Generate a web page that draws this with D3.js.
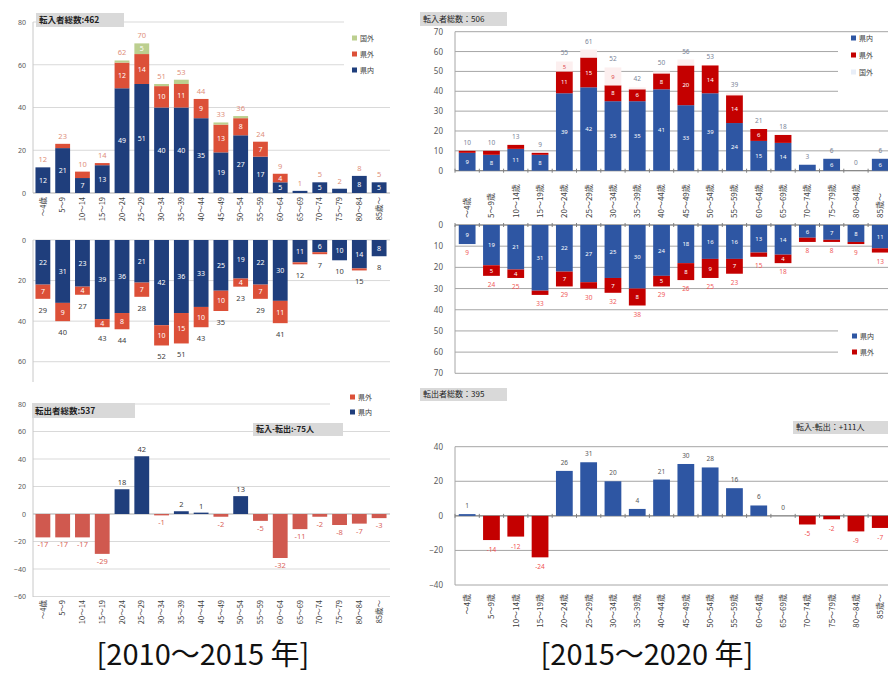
<!DOCTYPE html>
<html><head><meta charset="utf-8">
<script src="https://cdn.jsdelivr.net/npm/d3@7"></script>
<style>body{margin:0;background:#fff}svg{display:block;font-family:"Noto Sans CJK JP","Noto Sans",sans-serif}</style>
</head><body><svg id="c" width="888" height="677"></svg>
<script>
// ---------- DATA ----------
const catsL = ["～4歳","5～9","10～14","15～19","20～24","25～29","30～34","35～39","40～44","45～49","50～54","55～59","60～64","65～69","70～74","75～79","80～84","85歳～"];
const catsR = ["～4歳","5～9歳","10～14歳","15～19歳","20～24歳","25～29歳","30～34歳","35～39歳","40～44歳","45～49歳","50～54歳","55～59歳","60～64歳","65～69歳","70～74歳","75～79歳","80～84歳","85歳～"];
// 2010-2015 転入
const inPrefL    = [12,21,7,13,49,51,40,40,35,19,27,17,5,1,5,2,8,5];
const inOutPrefL = [0,2,3,1,12,14,10,11,9,13,8,7,4,0,0,0,0,0];
const inAbroadL  = [0,0,0,0,1,5,1,2,0,1,1,0,0,0,0,0,0,0];
// 2010-2015 転出
const outPrefL    = [22,31,23,39,36,21,42,36,33,25,19,22,30,11,6,10,14,8];
const outOutPrefL = [7,9,4,4,8,7,10,15,10,10,4,7,11,1,1,0,1,0];
// 2010-2015 転入-転出
const netL = [-17,-17,-17,-29,18,42,-1,2,1,-2,13,-5,-32,-11,-2,-8,-7,-3];
// 2015-2020 転入
const inPrefR    = [9,8,11,8,39,42,35,35,41,33,39,24,15,14,3,6,0,6];
const inOutPrefR = [1,2,2,1,11,15,8,6,8,20,14,14,6,4,0,0,0,0];
const inAbroadR  = [0,0,0,0,5,4,9,1,1,3,0,1,0,0,0,0,0,0];
// 2015-2020 転出
const outPrefR    = [9,19,21,31,22,27,25,30,24,18,16,16,13,14,6,7,8,11];
const outOutPrefR = [0,5,4,2,7,3,7,8,5,8,9,7,2,4,2,1,1,2];
// 2015-2020 転入-転出
const netR = [1,-14,-12,-24,26,31,20,4,21,30,28,16,6,0,-5,-2,-9,-7];
// tick values
const ticksLTop = [0,20,40,60,80], ticksLMid = [0,20,40,60], ticksLNet = [-60,-40,-20,0,20,40,60,80];
const ticksRTop = [0,10,20,30,40,50,60,70], ticksRMid = [0,10,20,30,40,50,60,70], ticksRNet = [-40,-20,0,20,40];
// texts
const titles = {lIn:"転入者総数:462", lOut:"転出者総数:537", lNet:"転入-転出:-75人",
  rIn:"転入者総数：506", rOut:"転出者総数：395", rNet:"転入-転出：+111人",
  capL:"[2010～2015 年]", capR:"[2015～2020 年]"};

// ---------- STYLE ----------
const L_BLUE="#1f3e7c", L_RED="#dc5038", L_GREEN="#bccf8f", L_NEG="#d0594f";
const R_BLUE="#2e56a3", R_RED="#c40000", R_PALE="#fcefef";
const svg = d3.select("#c");

function yAxis(g, y, ticks, x0, x1, pad, size, grid, gridEnd){
  const ax = g.append("g").attr("transform",`translate(${x0},0)`)
    .call(d3.axisLeft(y).tickValues(ticks).tickSize(0).tickPadding(pad));
  ax.select(".domain").remove();
  ax.selectAll("text").attr("font-size",size).attr("fill","#595959").attr("font-family","Noto Sans, sans-serif");
  ticks.forEach(t=>{
    g.append("line").attr("x1",x0).attr("x2",gridEnd?gridEnd(t):x1)
      .attr("y1",y(t)).attr("y2",y(t)).attr("stroke",grid).attr("stroke-width",1);
  });
}
function stackBars(g, cats, x, y, series, innerSize, minH){
  const data = cats.map((c,i)=>{const o={cat:c}; series.forEach(s=>o[s.key]=s.values[i]); return o;});
  const st = d3.stack().keys(series.map(s=>s.key))(data);
  st.forEach((layer,li)=>{
    g.append("g").selectAll("rect").data(layer).join("rect")
      .attr("x",d=>x(d.data.cat)).attr("width",x.bandwidth())
      .attr("y",d=>Math.min(y(d[0]),y(d[1]))).attr("height",d=>Math.abs(y(d[1])-y(d[0])))
      .attr("fill",series[li].color);
    if(series[li].label!==false){
      g.append("g").selectAll("text").data(layer.filter(d=>Math.abs(y(d[1])-y(d[0]))>=minH)).join("text")
        .attr("x",d=>x(d.data.cat)+x.bandwidth()/2).attr("y",d=>(y(d[0])+y(d[1]))/2).attr("dy","0.36em")
        .attr("text-anchor","middle").attr("font-size",innerSize).attr("fill",series[li].textColor||"#fff")
        .attr("font-family","Noto Sans, sans-serif").text(d=>d[1]-d[0]);
    }
  });
  return data.map((d,i)=>d3.sum(series,s=>s.values[i]));
}
function xLabels(g, cats, x, yPos, anchor, size){
  g.append("g").selectAll("text").data(cats).join("text")
    .attr("transform",d=>`translate(${x(d)+x.bandwidth()/2},${yPos}) rotate(-90)`)
    .attr("text-anchor",anchor).attr("dy","0.36em").attr("font-size",size).attr("fill","#404040").text(d=>d);
}
function legend(g, x, y0, dy, items, size){
  items.forEach((it,i)=>{
    g.append("rect").attr("x",x).attr("y",y0+i*dy-2.5).attr("width",5).attr("height",5).attr("fill",it.color);
    g.append("text").attr("x",x+8).attr("y",y0+i*dy).attr("dy","0.36em").attr("font-size",size).attr("fill","#404040").text(it.name);
  });
}
function box(g, x, y, w, h, text, size, weight){
  g.append("rect").attr("x",x).attr("y",y).attr("width",w).attr("height",h).attr("fill","#d9d9d9");
  g.append("text").attr("x",x+3).attr("y",y+h/2).attr("dy","0.36em").attr("font-size",size)
    .attr("font-weight",weight).attr("fill","#222").text(text);
}

// ================= LEFT PANEL =================
const gL = svg.append("g");
const xL = d3.scaleBand().domain(catsL).range([33,389]).paddingInner(0.25).paddingOuter(0.125);
const xc = (x,c)=>x(c)+x.bandwidth()/2;
// top: 転入
const yLT = d3.scaleLinear().domain([0,80]).range([193,22]);
yAxis(gL, yLT, ticksLTop, 33, 390, 7, 7, "#d9d9d9");
gL.append("rect").attr("x",344).attr("y",14).attr("width",46).attr("height",62).attr("fill","#fff");
gL.append("line").attr("x1",33).attr("x2",33).attr("y1",22).attr("y2",193).attr("stroke","#c8c8c8");
gL.append("line").attr("x1",33).attr("x2",390).attr("y1",193).attr("y2",193).attr("stroke","#bfbfbf");
const totLT = stackBars(gL, catsL, xL, yLT, [
  {key:"県内",values:inPrefL,color:L_BLUE},
  {key:"県外",values:inOutPrefL,color:L_RED},
  {key:"国外",values:inAbroadL,color:L_GREEN}], 7, 7);
gL.append("g").selectAll("text").data(catsL).join("text")
  .attr("x",c=>xc(xL,c)).attr("y",(c,i)=>yLT(totLT[i])-5).attr("text-anchor","middle")
  .attr("font-size",7.5).attr("fill","#e0907c").attr("font-family","Noto Sans, sans-serif").text((c,i)=>totLT[i]);
box(gL, 36, 13, 88, 14, titles.lIn, 8.5, 700);
legend(gL, 352, 38, 16, [{name:"国外",color:L_GREEN},{name:"県外",color:L_RED},{name:"県内",color:L_BLUE}], 7);
xLabels(gL, catsL, xL, 197, "end", 7.5);

// middle: 転出
const yLM = d3.scaleLinear().domain([0,70]).range([240,382]);
yAxis(gL, yLM, ticksLMid, 33, 390, 7, 7, "#d9d9d9");
gL.append("line").attr("x1",33).attr("x2",33).attr("y1",240).attr("y2",382).attr("stroke","#c8c8c8");
const totLM = stackBars(gL, catsL, xL, yLM, [
  {key:"県内",values:outPrefL,color:L_BLUE},
  {key:"県外",values:outOutPrefL,color:L_RED}], 7, 7);
gL.append("g").selectAll("text").data(catsL).join("text")
  .attr("x",c=>xc(xL,c)).attr("y",(c,i)=>yLM(totLM[i])+14).attr("text-anchor","middle")
  .attr("font-size",7.5).attr("fill","#404040").attr("font-family","Noto Sans, sans-serif").text((c,i)=>totLM[i]);

// bottom: 転入-転出
const yLN = d3.scaleLinear().domain([-60,80]).range([596.5,404]);
yAxis(gL, yLN, ticksLNet, 33, 390, 7, 7, "#d9d9d9", t=>t===80?330:390);
gL.append("line").attr("x1",33).attr("x2",33).attr("y1",404).attr("y2",597).attr("stroke","#c8c8c8");
gL.append("line").attr("x1",33).attr("x2",390).attr("y1",yLN(0)).attr("y2",yLN(0)).attr("stroke","#bfbfbf");
gL.append("g").selectAll("rect").data(catsL).join("rect")
  .attr("x",c=>xL(c)).attr("width",xL.bandwidth())
  .attr("y",(c,i)=>Math.min(yLN(0),yLN(netL[i]))).attr("height",(c,i)=>Math.abs(yLN(netL[i])-yLN(0)))
  .attr("fill",(c,i)=>netL[i]>=0?L_BLUE:L_NEG);
gL.append("g").selectAll("text").data(catsL).join("text")
  .attr("x",c=>xc(xL,c)).attr("y",(c,i)=>netL[i]>=0?yLN(netL[i])-4:yLN(netL[i])+10)
  .attr("text-anchor","middle").attr("font-size",7.5).attr("font-family","Noto Sans, sans-serif")
  .attr("fill",(c,i)=>netL[i]>=0?"#404040":"#d9645a").text((c,i)=>netL[i]);
box(gL, 32, 403, 103, 15, titles.lOut, 8.5, 700);
gL.append("rect").attr("x",336).attr("y",388).attr("width",54).attr("height",32).attr("fill","#fff");
legend(gL, 350, 397, 15, [{name:"県外",color:L_RED},{name:"県内",color:L_BLUE}], 7);
box(gL, 253, 423, 90, 13, titles.lNet, 8, 700);
xLabels(gL, catsL, xL, 600, "end", 7.5);

// ================= RIGHT PANEL =================
const gR = svg.append("g");
const xR = d3.scaleBand().domain(catsR).range([455,892.4]).paddingInner(0.31).paddingOuter(0.155);
function xTicks(g, y){
  g.append("g").selectAll("line").data(catsR).join("line")
    .attr("x1",c=>xR(c)-xR.step()*0.155).attr("x2",c=>xR(c)-xR.step()*0.155)
    .attr("y1",y-2).attr("y2",y+2).attr("stroke","#808080");
}
// top
const yRT = d3.scaleLinear().domain([0,70]).range([170.7,31.7]);
yAxis(gR, yRT, ticksRTop, 455, 888, 12, 8, "#a6a6a6", t=>(t>=40&&t<=60)?838:888);
gR.append("line").attr("x1",455).attr("x2",455).attr("y1",31.7).attr("y2",170.7).attr("stroke","#a6a6a6");
gR.append("line").attr("x1",455).attr("x2",888).attr("y1",170.7).attr("y2",170.7).attr("stroke","#808080");
xTicks(gR, 170.7);
const totRT = stackBars(gR, catsR, xR, yRT, [
  {key:"県内",values:inPrefR,color:R_BLUE},
  {key:"県外",values:inOutPrefR,color:R_RED},
  {key:"国外",values:inAbroadR,color:R_PALE,textColor:"#e05050"}], 6, 8);
gR.append("g").selectAll("text").data(catsR).join("text")
  .attr("x",c=>xc(xR,c)).attr("y",(c,i)=>yRT(totRT[i])-6).attr("text-anchor","middle")
  .attr("font-size",6.5).attr("fill","#7a8598").attr("font-family","Noto Sans, sans-serif").text((c,i)=>totRT[i]);
box(gR, 420, 12, 87, 14, titles.rIn, 8, 400);
legend(gR, 851, 38, 17, [{name:"県内",color:R_BLUE},{name:"県外",color:R_RED},{name:"国外",color:"#e8eef8"}], 7);
xLabels(gR, catsR, xR, 218, "start", 8);

// middle
const yRM = d3.scaleLinear().domain([0,70]).range([225,373.3]);
yAxis(gR, yRM, ticksRMid, 455, 888, 12, 8, "#a6a6a6", t=>(t===50||t===60)?838:888);
gR.append("line").attr("x1",455).attr("x2",455).attr("y1",225).attr("y2",373.3).attr("stroke","#a6a6a6");
gR.append("line").attr("x1",455).attr("x2",888).attr("y1",225).attr("y2",225).attr("stroke","#808080");
xTicks(gR, 225);
const totRM = stackBars(gR, catsR, xR, yRM, [
  {key:"県内",values:outPrefR,color:R_BLUE},
  {key:"県外",values:outOutPrefR,color:R_RED}], 6, 8);
gR.append("g").selectAll("text").data(catsR).join("text")
  .attr("x",c=>xc(xR,c)).attr("y",(c,i)=>yRM(totRM[i])+11).attr("text-anchor","middle")
  .attr("font-size",6.5).attr("fill","#f05a5a").attr("font-family","Noto Sans, sans-serif").text((c,i)=>totRM[i]);
legend(gR, 852, 336, 16, [{name:"県内",color:R_BLUE},{name:"県外",color:R_RED}], 7);
box(gR, 420, 388, 87, 13, titles.rOut, 8, 400);

// bottom net
const yRN = d3.scaleLinear().domain([-40,40]).range([585,446.7]);
yAxis(gR, yRN, ticksRNet, 455, 888, 12, 8, "#a6a6a6");
gR.append("line").attr("x1",455).attr("x2",455).attr("y1",446.7).attr("y2",585).attr("stroke","#a6a6a6");
gR.append("line").attr("x1",455).attr("x2",888).attr("y1",yRN(0)).attr("y2",yRN(0)).attr("stroke","#808080");
xTicks(gR, yRN(0));
gR.append("g").selectAll("rect").data(catsR).join("rect")
  .attr("x",c=>xR(c)).attr("width",xR.bandwidth())
  .attr("y",(c,i)=>Math.min(yRN(0),yRN(netR[i]))).attr("height",(c,i)=>Math.abs(yRN(netR[i])-yRN(0)))
  .attr("fill",(c,i)=>netR[i]>=0?R_BLUE:R_RED);
gR.append("g").selectAll("text").data(catsR).join("text")
  .attr("x",c=>xc(xR,c)).attr("y",(c,i)=>netR[i]>=0?yRN(netR[i])-6:yRN(netR[i])+12)
  .attr("text-anchor","middle").attr("font-size",6.5).attr("font-family","Noto Sans, sans-serif")
  .attr("fill",(c,i)=>netR[i]>=0?"#595959":"#f05050").text((c,i)=>netR[i]);
box(gR, 793, 421, 100, 13, titles.rNet, 8, 400);
xLabels(gR, catsR, xR, 594, "end", 8);

// captions
svg.append("text").attr("x",203).attr("y",665).attr("text-anchor","middle").attr("font-size",29)
  .attr("fill","#111").text(titles.capL);
svg.append("text").attr("x",647).attr("y",665).attr("text-anchor","middle").attr("font-size",29)
  .attr("fill","#111").text(titles.capR);
</script></body></html>
